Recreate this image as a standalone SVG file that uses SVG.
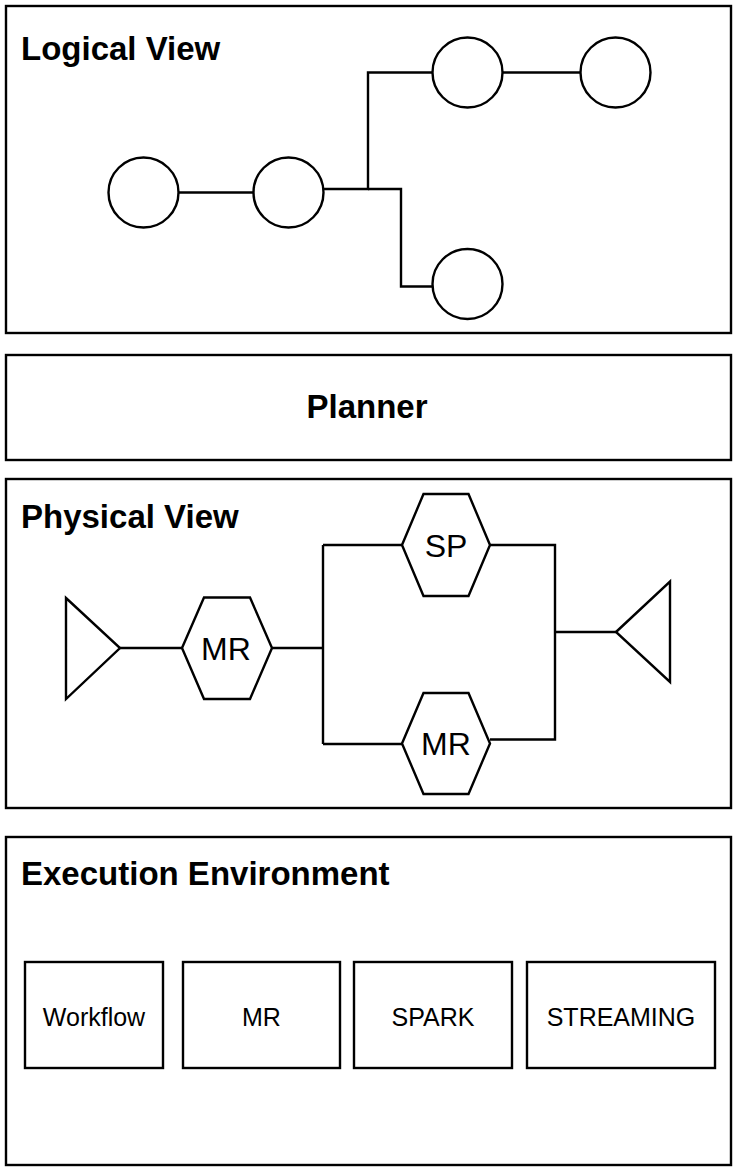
<svg xmlns="http://www.w3.org/2000/svg" width="737" height="1172" viewBox="0 0 737 1172">
<style>
.frame{fill:#fff;stroke:#000;stroke-width:2.4}
.shape{fill:#fff;stroke:#000;stroke-width:2.4}
.conn{fill:none;stroke:#000;stroke-width:2.4}
.title{font-family:"Liberation Sans",Arial,sans-serif;font-weight:bold;font-size:33px;fill:#000}
.lbl{font-family:"Liberation Sans",Arial,sans-serif;font-size:32px;fill:#000;text-anchor:middle;dominant-baseline:central}
.blbl{font-family:"Liberation Sans",Arial,sans-serif;font-size:25px;fill:#000;text-anchor:middle;dominant-baseline:central}
</style>
<rect width="737" height="1172" fill="#fff"/>
<g id="logical-view">
<rect class="frame" x="6" y="6" width="725" height="327"/>
<text class="title" x="21" y="60">Logical View</text>
</g>
<g id="planner">
<rect class="frame" x="6" y="355" width="725" height="105"/>
<text class="title" x="367" y="418" text-anchor="middle">Planner</text>
</g>
<g id="physical-view">
<rect class="frame" x="6" y="479" width="725" height="329"/>
<text class="title" x="21" y="528">Physical View</text>
</g>
<g id="execution-environment">
<rect class="frame" x="6" y="837" width="725" height="328"/>
<text class="title" x="21" y="885">Execution Environment</text>
</g>
<g id="connectors">
<path class="conn" d="M178 192.5 H253"/>
<path class="conn" d="M324 189 H368 V72.5 H432"/>
<path class="conn" d="M368 189 H401 V286.5 H432"/>
<path class="conn" d="M503 72.5 H580"/>
<path class="conn" d="M120 648 H182"/>
<path class="conn" d="M272 648 H323"/>
<path class="conn" d="M323 545 V744"/>
<path class="conn" d="M323 545 H402"/>
<path class="conn" d="M323 744 H402"/>
<path class="conn" d="M490 545 H555 V739.5 H490"/>
<path class="conn" d="M555 632 H616"/>
</g>
<g id="c1"><circle class="shape" cx="143.5" cy="192.5" r="35"/></g>
<g id="c2"><circle class="shape" cx="288.5" cy="192.5" r="35"/></g>
<g id="c3"><circle class="shape" cx="467.5" cy="72.5" r="35"/></g>
<g id="c4"><circle class="shape" cx="615.5" cy="72.5" r="35"/></g>
<g id="c5"><circle class="shape" cx="467.5" cy="284" r="35"/></g>
<g id="source"><polygon class="shape" points="66,598 120,648 66,699"/></g>
<g id="mr1">
<polygon class="shape" points="182,648 204,597.5 250,597.5 272,648 250,699 204,699"/>
<text class="lbl" x="226" y="649">MR</text>
</g>
<g id="sp">
<polygon class="shape" points="402,545 423.5,494 468.5,494 490,545 468.5,596 423.5,596"/>
<text class="lbl" x="446" y="546">SP</text>
</g>
<g id="mr2">
<polygon class="shape" points="402,743.5 423.5,693 468.5,693 490,743.5 468.5,794 423.5,794"/>
<text class="lbl" x="446" y="744">MR</text>
</g>
<g id="sink"><polygon class="shape" points="616,632 670,581.5 670,682"/></g>
<g id="workflow">
<rect class="shape" x="25" y="962" width="138" height="106"/>
<text class="blbl" x="94" y="1017">Workflow</text>
</g>
<g id="mr-env">
<rect class="shape" x="183" y="962" width="157" height="106"/>
<text class="blbl" x="261.5" y="1017">MR</text>
</g>
<g id="spark">
<rect class="shape" x="354" y="962" width="158" height="106"/>
<text class="blbl" x="433" y="1017">SPARK</text>
</g>
<g id="streaming">
<rect class="shape" x="527" y="962" width="188" height="106"/>
<text class="blbl" x="621" y="1017">STREAMING</text>
</g>
</svg>
